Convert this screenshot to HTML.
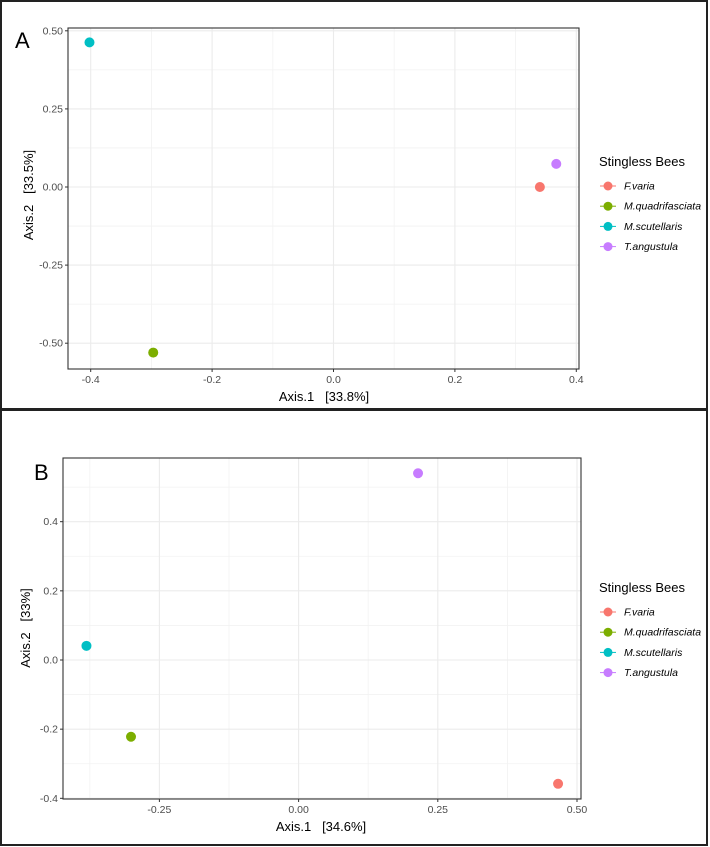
<!DOCTYPE html>
<html><head><meta charset="utf-8"><style>
html,body{margin:0;padding:0;background:#fff;}
svg{display:block;font-family:"Liberation Sans",sans-serif;}
</style></head><body>
<svg id="fig" width="710" height="847" viewBox="0 0 710 847"></svg>
<script>
const species = ["F.varia","M.quadrifasciata","M.scutellaris","T.angustula"];
const colors = ["#F8766D","#7CAE00","#00BFC4","#C77CFF"];
const aX = [0.34,-0.297,-0.402,0.367];
const aY = [0.0,-0.53,0.463,0.074];
const aXTicks = [-0.4,-0.2,0.0,0.2,0.4];
const aXTickLabels = ["-0.4","-0.2","0.0","0.2","0.4"];
const aYTicks = [0.5,0.25,0,-0.25,-0.5];
const aYTickLabels = ["0.50","0.25","0.00","-0.25","-0.50"];
const bX = [0.466,-0.301,-0.381,0.2145];
const bY = [-0.358,-0.222,0.041,0.54];
const bXTicks = [-0.25,0,0.25,0.5];
const bXTickLabels = ["-0.25","0.00","0.25","0.50"];
const bYTicks = [0.4,0.2,0,-0.2,-0.4];
const bYTickLabels = ["0.4","0.2","0.0","-0.2","-0.4"];

const NS="http://www.w3.org/2000/svg";
const svg=document.getElementById('fig');
function mk(tag,attrs,parent,text){const e=document.createElementNS(NS,tag);for(const k in attrs)e.setAttribute(k,attrs[k]);if(text!==undefined)e.textContent=text;(parent||svg).appendChild(e);return e;}

function panel(cfg){
  const g=mk('g',{});
  
  
  const frame=mk('rect',{x:cfg.frame[0],y:cfg.frame[1],width:cfg.frame[2],height:cfg.frame[3],fill:'#fff',stroke:'#222','stroke-width':2},g);
  
  
  const sx=v=>cfg.x0+v*cfg.kx, sy=v=>cfg.y0-v*cfg.ky;
  const p=cfg.plot;
  const xs=cfg.xTicks, ys=cfg.yTicks;
  const dx=xs[1]-xs[0], dy=ys[0]-ys[1];
  for(let v=xs[0]-dx/2; v<=xs[xs.length-1]+dx/2+1e-9; v+=dx){const X=sx(v); if(X>p.l&&X<p.r){const l=mk('line',{x1:X,x2:X,y1:p.t,y2:p.b,stroke:'#f2f2f2','stroke-width':0.8},g);}}
  for(let v=ys[ys.length-1]-dy/2; v<=ys[0]+dy/2+1e-9; v+=dy){const Y=sy(v); if(Y>p.t&&Y<p.b){const l=mk('line',{x1:p.l,x2:p.r,y1:Y,y2:Y,stroke:'#f2f2f2','stroke-width':0.8},g);}}
  xs.forEach((v,i)=>{const X=sx(v);
    const l=mk('line',{x1:X,x2:X,y1:p.t,y2:p.b,stroke:'#ebebeb','stroke-width':1.1},g);
    
    mk('line',{x1:X,x2:X,y1:p.b,y2:p.b+3,stroke:'#333','stroke-width':1},g);
    const t=mk('text',{x:X,y:p.b+14,'text-anchor':'middle','font-size':10.5,fill:'#4d4d4d'},g,cfg.xLabels[i]);
    });
  ys.forEach((v,i)=>{const Y=sy(v);
    const l=mk('line',{x1:p.l,x2:p.r,y1:Y,y2:Y,stroke:'#ebebeb','stroke-width':1.1},g);
    
    mk('line',{x1:p.l-3,x2:p.l,y1:Y,y2:Y,stroke:'#333','stroke-width':1},g);
    const t=mk('text',{x:p.l-5,y:Y+3.5,'text-anchor':'end','font-size':10.5,fill:'#4d4d4d'},g,cfg.yLabels[i]);
    });
  const border=mk('rect',{x:p.l,y:p.t,width:p.r-p.l,height:p.b-p.t,fill:'none',stroke:'#333','stroke-width':1.1},g);
  
  cfg.xv.forEach((v,i)=>{const c=mk('circle',{cx:sx(v),cy:sy(cfg.yv[i]),r:5,fill:colors[i]},g);
    
    });
  const xt=mk('text',{x:cfg.xTitle[0],y:cfg.xTitle[1],'text-anchor':'middle','font-size':13,fill:'#000'},g,cfg.xTitleText);
  
  xt.style.whiteSpace='pre';
  const yt=mk('text',{x:0,y:0,transform:`translate(${cfg.yTitle[0]},${cfg.yTitle[1]}) rotate(-90)`,'text-anchor':'middle','font-size':13,fill:'#000'},g,cfg.yTitleText);
  yt.style.whiteSpace='pre';
  const lab=mk('text',{x:cfg.label[0],y:cfg.label[1],'font-size':22,fill:'#000'},g,cfg.id.toUpperCase());
  
  const lg=mk('g',{},g);
  
  const lt=mk('text',{x:599,y:cfg.legY,'font-size':13,fill:'#000'},lg,'Stingless Bees');
  
  species.forEach((s,i)=>{const y=cfg.legY+20+i*20.2;
    const e=mk('g',{},lg);
    
    mk('line',{x1:600,x2:616,y1:y,y2:y,stroke:colors[i],'stroke-width':1},e);
    mk('circle',{cx:608,cy:y,r:4.5,fill:colors[i]},e);
    mk('text',{x:624,y:y+3.5,'font-size':10.5,'font-style':'italic',fill:'#000'},e,s);});
}

panel({id:'a',frame:[1,1,706,408],plot:{l:68,r:579,t:28,b:369},
  x0:333.5,kx:607,y0:187,ky:312.4,xTicks:aXTicks,xLabels:aXTickLabels,yTicks:aYTicks,yLabels:aYTickLabels,
  xv:aX,yv:aY,xTitle:[324,401],xTitleText:'Axis.1   [33.8%]',yTitle:[33,195],yTitleText:'Axis.2   [33.5%]',
  label:[15,48],legY:166});
panel({id:'b',frame:[1,410,706,435],plot:{l:63,r:581,t:458,b:799},
  x0:298.6,kx:556.8,y0:660,ky:345.8,xTicks:bXTicks,xLabels:bXTickLabels,yTicks:bYTicks,yLabels:bYTickLabels,
  xv:bX,yv:bY,xTitle:[321,831],xTitleText:'Axis.1   [34.6%]',yTitle:[30,628],yTitleText:'Axis.2   [33%]',
  label:[34,480],legY:592});
</script>
</body></html>
